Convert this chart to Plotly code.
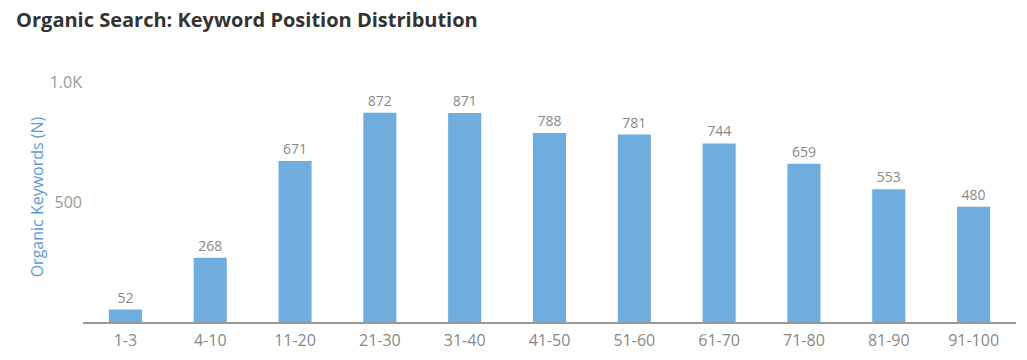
import plotly.graph_objects as go

categories = ["1-3", "4-10", "11-20", "21-30", "31-40", "41-50", "51-60", "61-70", "71-80", "81-90", "91-100"]
values = [52, 268, 671, 872, 871, 788, 781, 744, 659, 553, 480]
y_tickvals = [500, 1000]
y_ticktext = ["500", "1.0K"]

fig = go.Figure(go.Bar(
    x=categories, y=values,
    marker=dict(color="#70ADDF", line=dict(width=0)),
    text=[str(v) for v in values], textposition="outside",
    textfont=dict(family="Open Sans", size=14, color="#888888"),
    cliponaxis=False,
))

# page body has an 8px margin; figure is sized/offset to compensate
fig.update_layout(
    width=1011, height=344,
    margin=dict(l=75, r=3, t=64, b=30),
    paper_bgcolor="white", plot_bgcolor="white",
    bargap=0.61,
    showlegend=False,
    title=dict(text="<b>Organic Search: Keyword Position Distribution</b>",
               x=0.008, xanchor="left", y=0.964, yanchor="middle",
               font=dict(family="Open Sans", size=20, color="#333333")),
    font=dict(family="Open Sans"),
)
fig.update_xaxes(
    showline=True, linecolor="#999999", linewidth=1.5,
    showgrid=False, ticks="", ticklabelstandoff=3, automargin=False,
    tickfont=dict(family="Open Sans", size=16, color="#888888"),
)
fig.update_yaxes(
    range=[0, 1041.7], showgrid=False, zeroline=False, showline=False,
    tickvals=y_tickvals, ticktext=y_ticktext, ticks="", automargin=False,
    tickfont=dict(family="Open Sans", size=16, color="#999999"),
    title=dict(text="Organic Keywords (N)", standoff=2,
               font=dict(family="Open Sans", size=16, color="#5B9BD5")),
)

fig.write_html("out.html")
